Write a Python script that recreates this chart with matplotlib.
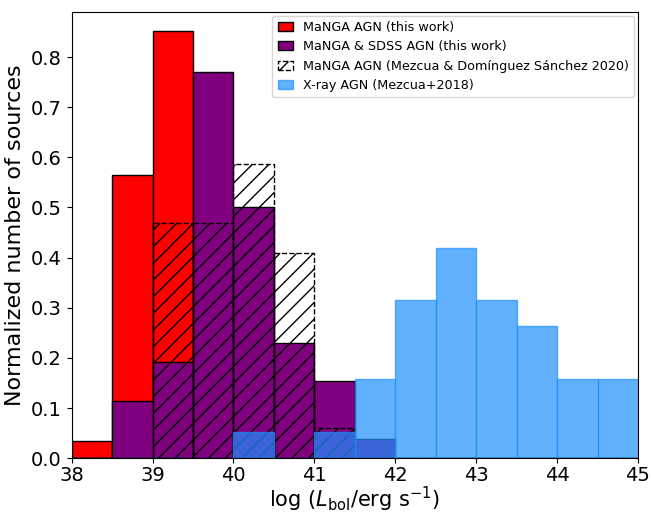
import numpy as np
import matplotlib
matplotlib.use("Agg")
import matplotlib.pyplot as plt

bin_edges = np.arange(38.0, 45.0, 0.5)  # left edges

manga = [0.034, 0.565, 0.851, 0, 0, 0, 0, 0, 0, 0, 0, 0, 0, 0]
manga_sdss = [0, 0.115, 0.192, 0.770, 0.500, 0.230, 0.153, 0.038, 0, 0, 0, 0, 0, 0]
mezcua2020 = [0, 0, 0.470, 0.470, 0.587, 0.410, 0.060, 0, 0, 0, 0, 0, 0, 0]
xray = [0, 0, 0, 0, 0.052, 0, 0.052, 0.157, 0.316, 0.420, 0.316, 0.264, 0.157, 0.157]

fig, ax = plt.subplots(figsize=(6.51, 5.16), dpi=100)

ax.bar(bin_edges, manga, width=0.5, align='edge', color='red', edgecolor='black',
       label='MaNGA AGN (this work)')
ax.bar(bin_edges, manga_sdss, width=0.5, align='edge', color='purple', edgecolor='black',
       label='MaNGA & SDSS AGN (this work)')
ax.bar(bin_edges, mezcua2020, width=0.5, align='edge', fill=False, hatch='//',
       edgecolor='black', linestyle='--', label='MaNGA AGN (Mezcua & Domínguez Sánchez 2020)')
ax.bar(bin_edges, xray, width=0.5, align='edge', color='dodgerblue', alpha=0.7,
       edgecolor='dodgerblue', label='X-ray AGN (Mezcua+2018)')

ax.set_xlim(38, 45)
ax.set_ylim(0, 0.89)
ax.set_xticks(np.arange(38, 46, 1))
ax.set_yticks(np.arange(0, 0.85, 0.1))
ax.tick_params(labelsize=14)
ax.tick_params(axis='x', pad=2)
ax.set_xlabel(r'log ($L_{\rm bol}$/erg s$^{-1}$)', fontsize=15, labelpad=0)
ax.set_ylabel('Normalized number of sources', fontsize=16)
ax.legend(loc='upper right', fontsize=9.2, handlelength=1.2, handletextpad=0.8,
          borderaxespad=0.3)

fig.subplots_adjust(left=0.11, right=0.98, bottom=0.112, top=0.977)
fig.savefig('out.png', dpi=100)
